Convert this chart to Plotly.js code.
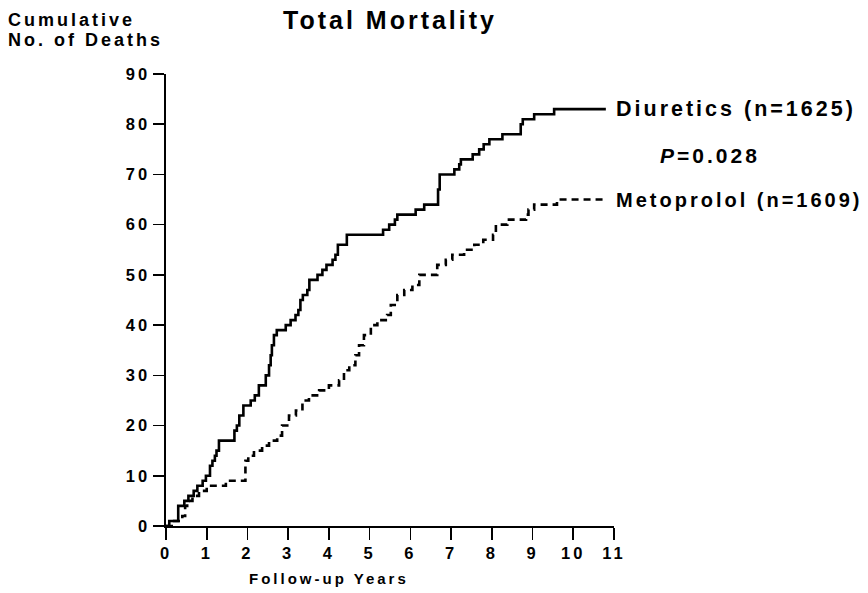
<!DOCTYPE html>
<html>
<head>
<meta charset="utf-8">
<script src="https://cdn.plot.ly/plotly-3.0.1.min.js"></script>
<style>
  html, body { margin: 0; padding: 0; background: #fff; }
  #chart { width: 868px; height: 593px; }
  /* wide tracking of the typeset labels */
  text { letter-spacing: 3px; }
</style>
</head>
<body>
<div id="chart"></div>
<script>
// Cumulative deaths, step changes: [year of event, cumulative count after it]
const diureticYears = [0, 0.08, 0.3, 0.45, 0.55, 0.68, 0.77, 0.9, 0.98,
  1.08, 1.14, 1.2, 1.24, 1.3, 1.68, 1.74, 1.8, 1.9,
  2.08, 2.18, 2.28, 2.45, 2.53, 2.57, 2.6, 2.65, 2.72, 2.94,
  3.06, 3.18, 3.25, 3.3, 3.36, 3.47, 3.52, 3.72, 3.84, 3.94,
  4.09, 4.16, 4.22, 4.44, 5.33, 5.48, 5.62, 5.68,
  6.13, 6.34, 6.68, 6.72, 7.08, 7.2, 7.24, 7.53, 7.69, 7.8, 7.94,
  8.26, 8.71, 8.76, 9.04, 9.53, 10.8];
const diureticDeaths = [0, 1, 4, 5, 6, 7, 8, 9, 10,
  12, 13, 14, 15, 17, 19, 20, 22, 24,
  25, 26, 28, 30, 32, 34, 36, 38, 39, 40,
  41, 42, 43, 45, 46, 47, 49, 50, 51, 52,
  53, 54, 56, 58, 59, 60, 61, 62,
  63, 64, 67, 70, 71, 72, 73, 74, 75, 76, 77,
  78, 80, 81, 82, 83, 83];

const metoprololYears = [0, 0.2, 0.4, 0.47, 0.52, 0.65, 0.81, 1.0, 1.47,
  1.95, 2.02, 2.16, 2.36, 2.53, 2.73, 2.85,
  3.02, 3.19, 3.35, 3.51, 3.76,
  4.0, 4.25, 4.37, 4.5, 4.65, 4.74, 4.86,
  5.03, 5.19, 5.43, 5.52, 5.68, 5.85,
  6.05, 6.22, 6.66, 6.87, 7.03, 7.32, 7.57, 7.79,
  8.03, 8.1, 8.38, 8.84, 8.9, 9.04, 9.6, 10.8];
const metoprololDeaths = [0, 1, 2, 4, 5, 6, 7, 8, 9,
  13, 14, 15, 16, 17, 18, 20,
  22, 23, 25, 26, 27,
  28, 29, 31, 32, 34, 36, 38,
  40, 41, 42, 44, 46, 47,
  48, 50, 52, 53, 54, 55, 56, 57,
  58, 60, 61, 62, 63, 64, 65, 65];

const yearTicks = [0, 1, 2, 3, 4, 5, 6, 7, 8, 9, 10, 11];
const deathTicks = [0, 10, 20, 30, 40, 50, 60, 70, 80, 90];

const diureticLabel = 'Diuretics (n=1625)';
const metoprololLabel = 'Metoprolol (n=1609)';
const pValueLabel = '<i>P</i>=0.028';

const FONT = '"Liberation Sans", Arial, Helvetica, sans-serif';

const traces = [
  {
    x: diureticYears, y: diureticDeaths,
    type: 'scatter', mode: 'lines',
    line: { shape: 'hv', color: '#000', width: 2.6 },
    cliponaxis: false, hoverinfo: 'skip'
  },
  {
    x: metoprololYears, y: metoprololDeaths,
    type: 'scatter', mode: 'lines',
    line: { shape: 'hv', color: '#000', width: 2.6, dash: '7px,5px' },
    cliponaxis: false, hoverinfo: 'skip'
  }
];

const plotLeft = 166, plotTop = 74, plotW = 448, plotH = 452;
const px = v => (v - plotLeft) / plotW;          // pixel x -> paper x
const py = v => (plotTop + plotH - v) / plotH;   // pixel y -> paper y

const layout = {
  width: 868, height: 593,
  margin: { l: plotLeft, t: plotTop, r: 868 - plotLeft - plotW, b: 593 - plotTop - plotH, pad: 0 },
  paper_bgcolor: '#fff', plot_bgcolor: '#fff',
  showlegend: false,
  font: { family: FONT, color: '#000', weight: 'bold' },
  title: {
    text: 'Total Mortality',
    font: { family: FONT, size: 25, color: '#000', weight: 'bold' },
    xref: 'container', x: 390 / 868, xanchor: 'center',
    yref: 'container', y: 1 - 20 / 593, yanchor: 'middle'
  },
  xaxis: {
    range: [0, 11],
    tickvals: yearTicks, ticktext: yearTicks.map(String),
    ticks: 'outside', ticklen: 12, tickwidth: 1.6, tickcolor: '#000',
    showline: true, linecolor: '#000', linewidth: 1.6,
    showgrid: false, zeroline: false,
    tickfont: { family: FONT, size: 16.5, color: '#000', weight: 'bold' },
    fixedrange: true
  },
  yaxis: {
    range: [0, 90],
    tickvals: deathTicks, ticktext: deathTicks.map(String),
    ticks: 'outside', ticklen: 11, tickwidth: 1.6, tickcolor: '#000',
    showline: true, linecolor: '#000', linewidth: 1.6,
    showgrid: false, zeroline: false,
    tickfont: { family: FONT, size: 16.5, color: '#000', weight: 'bold' },
    fixedrange: true
  },
  annotations: [
    { text: 'Cumulative', xref: 'paper', yref: 'paper', x: px(6), y: py(20),
      xanchor: 'left', yanchor: 'middle', align: 'left', showarrow: false,
      font: { family: FONT, size: 18, color: '#000', weight: 'bold' } },
    { text: 'No. of Deaths', xref: 'paper', yref: 'paper', x: px(6), y: py(40),
      xanchor: 'left', yanchor: 'middle', align: 'left', showarrow: false,
      font: { family: FONT, size: 18, color: '#000', weight: 'bold' } },
    { text: 'Follow-up Years', xref: 'paper', yref: 'paper', x: px(247), y: py(578),
      xanchor: 'left', yanchor: 'middle', align: 'left', showarrow: false,
      font: { family: FONT, size: 15, color: '#000', weight: 'bold' } },
    { text: diureticLabel, xref: 'x', yref: 'y', x: 11, y: diureticDeaths[diureticDeaths.length - 1],
      xanchor: 'left', yanchor: 'middle', align: 'left', showarrow: false,
      font: { family: FONT, size: 21.5, color: '#000', weight: 'bold' } },
    { text: pValueLabel, xref: 'paper', yref: 'paper', x: px(658), y: py(155),
      xanchor: 'left', yanchor: 'middle', align: 'left', showarrow: false,
      font: { family: FONT, size: 21, color: '#000', weight: 'bold' } },
    { text: metoprololLabel, xref: 'x', yref: 'y', x: 11, y: metoprololDeaths[metoprololDeaths.length - 1],
      xanchor: 'left', yanchor: 'middle', align: 'left', showarrow: false,
      font: { family: FONT, size: 20, color: '#000', weight: 'bold' } }
  ]
};

Plotly.newPlot('chart', traces, layout, { staticPlot: true, displayModeBar: false });
</script>
</body>
</html>
